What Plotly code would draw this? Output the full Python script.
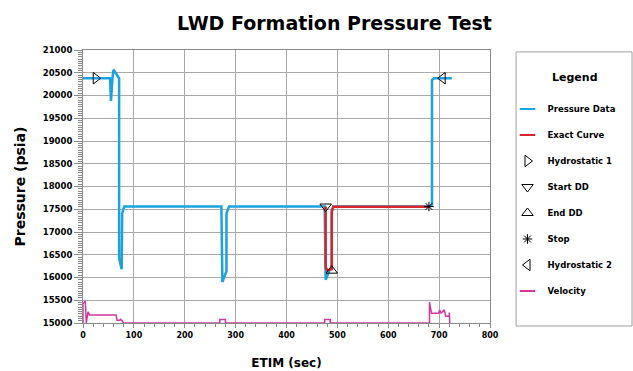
import plotly.graph_objects as go

# ---- data ----
pressure_t = [0, 53, 55, 57, 58, 60, 71, 71, 76, 77, 81, 272, 274, 282, 282, 287,
              475, 477, 485, 489, 489, 492, 681, 686, 686, 690, 725]
pressure_p = [20380, 20380, 19880, 20380, 20380, 20570, 20380, 16430, 16180, 17410, 17560,
              17560, 15900, 16140, 17410, 17560,
              17560, 15950, 16170, 16200, 17450, 17560, 17560, 17600, 20340, 20380, 20380]

exact_t = [477, 477, 480, 489, 489, 492, 680]
exact_p = [17560, 16230, 16160, 16180, 17450, 17555, 17555]

velocity_t = [0, 0, 4.6, 6.5, 9.8, 13, 65, 67, 72, 74, 76, 80, 269, 269, 280, 280,
              475, 475, 486, 486, 681, 681, 685, 699, 701, 704, 710, 713, 720, 720, 721]
velocity_v = [15000, 15420, 15485, 15000, 15246, 15177, 15177, 15060, 15060, 15080, 15060, 15000,
              15000, 15077, 15077, 15000, 15000, 15077, 15077, 15000, 15000, 15460, 15215, 15215,
              15285, 15215, 15290, 15150, 15150, 15230, 15000]

hydro1 = (25, 20380)
start_dd = (477, 17560)
end_dd = (489, 16150)
stop_pt = (680, 17560)
hydro2 = (707, 20380)

x_ticks = [0, 100, 200, 300, 400, 500, 600, 700, 800]
y_ticks = list(range(15000, 21001, 500))

BLUE = "#1aa3dd"
RED = "#d6262c"
MAG = "#d1389e"
FONT = "DejaVu Sans"

fig = go.Figure()

# real traces (legend entries drawn by legend-only twins below)
fig.add_trace(go.Scatter(x=pressure_t, y=pressure_p, mode="lines",
                         line=dict(color=BLUE, width=2.5), showlegend=False))
fig.add_trace(go.Scatter(x=exact_t, y=exact_p, mode="lines",
                         line=dict(color=RED, width=2.5), showlegend=False))
fig.add_trace(go.Scatter(x=velocity_t, y=velocity_v, mode="lines",
                         line=dict(color=MAG, width=1.5), showlegend=False))

def marker_trace(pt, name, symbol, size=10):
    return go.Scatter(x=[pt[0]], y=[pt[1]], mode="markers", name=name, legendgroup=name,
                      marker=dict(symbol=symbol, size=size, color="black",
                                  line=dict(color="black", width=1)))

def legend_line(name, color):
    return go.Scatter(x=[None], y=[None], mode="markers", name=name, legendgroup=name,
                      marker=dict(symbol="line-ew", size=11, color=color,
                                  line=dict(color=color, width=2)))

fig.add_trace(legend_line("Pressure Data", BLUE))
fig.add_trace(legend_line("Exact Curve", RED))
fig.add_trace(marker_trace(hydro1, "Hydrostatic 1", "triangle-right-open"))
fig.add_trace(marker_trace(start_dd, "Start DD", "triangle-down-open"))
fig.add_trace(marker_trace(end_dd, "End DD", "triangle-up-open"))
fig.add_trace(marker_trace(stop_pt, "Stop", "asterisk-open", size=8))
fig.add_trace(marker_trace(hydro2, "Hydrostatic 2", "triangle-left-open"))
fig.add_trace(legend_line("Velocity", MAG))

GRID = "#a9a9a9"
fig.update_layout(
    width=633, height=371,
    margin=dict(l=83, r=143, t=50, b=48, autoexpand=False),
    paper_bgcolor="white", plot_bgcolor="white",
    font=dict(family=FONT, color="black"),
    xaxis=dict(range=[0, 800], tickvals=x_ticks, showgrid=True, gridcolor=GRID, gridwidth=1,
               showline=True, linecolor="#8a8a8a", linewidth=1, mirror=True,
               ticks="outside", ticklen=4, tickcolor="#8a8a8a", zeroline=False,
               tickfont=dict(family=FONT, size=8, color="black", weight="bold"),
               minor=dict(dtick=20, ticks="outside", ticklen=3, tickcolor="#8a8a8a", showgrid=False),
               title=dict(text="<b>ETIM (sec)</b>", font=dict(family=FONT, size=12), standoff=20)),
    yaxis=dict(range=[15000, 21000], tickvals=y_ticks, tickformat="d", showgrid=True,
               gridcolor=GRID, gridwidth=1,
               showline=True, linecolor="#8a8a8a", linewidth=1, mirror=True,
               ticks="outside", ticklen=8, tickcolor="#8a8a8a", zeroline=False,
               tickfont=dict(family=FONT, size=8.5, color="black", weight="bold"),
               minor=dict(dtick=50, ticks="outside", ticklen=4, tickcolor="#8a8a8a", showgrid=False),
               title=dict(text="<b>Pressure (psia)</b>", font=dict(family=FONT, size=14), standoff=13)),
    legend=dict(x=1.043, y=0.837, xanchor="left", yanchor="top",
                bgcolor="rgba(0,0,0,0)", borderwidth=0,
                traceorder="grouped", tracegroupgap=7,
                font=dict(family=FONT, size=8.5, color="black", weight="bold")),
    shapes=[dict(type="rect", xref="paper", yref="paper", x0=1.064, x1=1.349,
                 y0=-0.011, y1=0.993, line=dict(color="#a0a0a0", width=1))],
    annotations=[
        dict(text="<b>LWD Formation Pressure Test</b>", xref="paper", yref="paper",
             x=0.619, y=1.1, xanchor="center", yanchor="middle", showarrow=False,
             font=dict(family=FONT, size=19, color="black")),
        dict(text="<b>Legend</b>", xref="paper", yref="paper",
             x=1.21, y=0.898, xanchor="center", yanchor="middle", showarrow=False,
             font=dict(family=FONT, size=11, color="black")),
    ],
)

fig.write_html("out.html")
